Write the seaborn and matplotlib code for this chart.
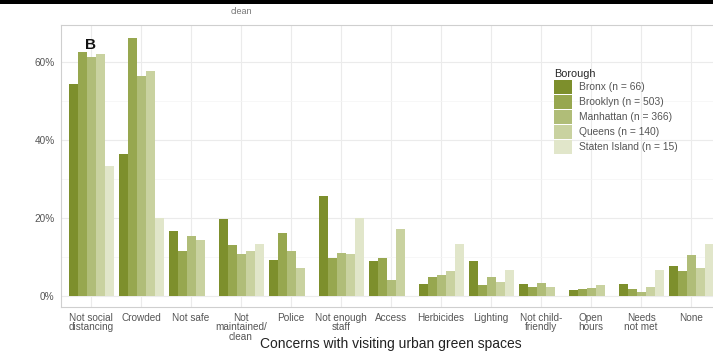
import pandas as pd
import seaborn as sns
import matplotlib.pyplot as plt
from matplotlib.patches import Rectangle

# concern categories (x axis) and boroughs (hue)
concerns = ["Not social\ndistancing", "Crowded", "Not safe", "Not\nmaintained/\nclean",
            "Police", "Not enough\nstaff", "Access", "Herbicides", "Lighting",
            "Not child-\nfriendly", "Open\nhours", "Needs\nnot met", "None"]
boroughs = ["Bronx (n = 66)", "Brooklyn (n = 503)", "Manhattan (n = 366)",
            "Queens (n = 140)", "Staten Island (n = 15)"]

# percent of respondents
bronx = [54.5, 36.3, 16.7, 19.7, 9.2, 25.7, 9.1, 3.2, 9.1, 3.1, 1.5, 3.2, 7.7]
brooklyn = [62.5, 66.2, 11.6, 13.0, 16.3, 9.8, 9.8, 4.8, 2.8, 2.4, 1.7, 1.8, 6.4]
manhattan = [61.2, 56.5, 15.3, 10.7, 11.5, 11.0, 4.1, 5.5, 5.0, 3.3, 2.0, 1.1, 10.5]
queens = [62.0, 57.7, 14.4, 11.5, 7.3, 10.8, 17.1, 6.5, 3.6, 2.2, 2.9, 2.3, 7.3]
staten = [33.3, 20.1, 0.0, 13.3, 0.0, 20.1, 0.0, 13.4, 6.8, 0.0, 0.0, 6.8, 13.4]

colors = ["#7d8f2c", "#97a74f", "#b0bd78", "#c9d2a0", "#e1e6ca"]

rows = []
for b, vals in zip(boroughs, [bronx, brooklyn, manhattan, queens, staten]):
    for c, v in zip(concerns, vals):
        rows.append({"concern": c, "borough": b, "pct": v})
df = pd.DataFrame(rows)

sns.set_theme(style="whitegrid")
plt.rcParams['font.family'] = ['Liberation Sans', 'DejaVu Sans']

fig = plt.figure(figsize=(7.13, 3.53), dpi=100)
ax = fig.add_axes([61 / 713, 46 / 353, 660 / 713, 282 / 353])

sns.barplot(data=df, x="concern", y="pct", hue="borough", order=concerns,
            hue_order=boroughs, palette=colors, width=0.9, gap=0,
            linewidth=0, saturation=1, errorbar=None, ax=ax)

ax.set_xlim(-0.6, 12.6)
ax.set_ylim(-2.8, 69.5)
ax.set_yticks([0, 20, 40, 60])
ax.set_yticklabels(["0%", "20%", "40%", "60%"])
ax.set_yticks([10, 30, 50], minor=True)
ax.grid(True, which="major", color="#ebebeb", linewidth=0.8)
ax.grid(True, which="minor", axis="y", color="#f4f4f4", linewidth=0.5)
ax.set_axisbelow(True)
for s in ax.spines.values():
    s.set_color("#cfcfcf")
    s.set_linewidth(0.8)

ax.tick_params(axis="both", which="major", length=2.5, width=0.6, color="#555555",
               labelsize=7.2, labelcolor="#555555", pad=2)
ax.tick_params(axis="y", which="minor", length=0)
for lbl in ax.get_xticklabels():
    lbl.set_linespacing(0.9)

ax.set_xlabel("Concerns with visiting urban green spaces", fontsize=10, color="#222222")
ax.xaxis.label.set_va("center")
ax.xaxis.set_label_coords(0.5, -0.13)
ax.set_ylabel("")

# panel letter
ax.text(0.0, 64.5, "B", fontsize=11, fontweight="bold", color="#111111", ha="center", va="center")

# legend, keys stacked without gaps like ggplot
handles, labels = ax.get_legend_handles_labels()
ax.legend(handles, labels, title="Borough", loc="upper left",
          bbox_to_anchor=(549 / 713, 1 - 64 / 353), bbox_transform=fig.transFigure,
          frameon=False, fontsize=7.4, title_fontsize=7.8, handlelength=1.75,
          handleheight=1.8, handletextpad=0.7, labelspacing=0.05, borderpad=0,
          alignment="left", labelcolor="#555555")

# cropped bits of surrounding figure
fig.add_artist(Rectangle((0, 349 / 353), 1, 4 / 353, transform=fig.transFigure,
                         color="black", lw=0))
fig.text(241 / 713, 1 - 11 / 353, "clean", fontsize=6.5, color="#777777",
         ha="center", va="center")

fig.savefig("out.png", dpi=100)
